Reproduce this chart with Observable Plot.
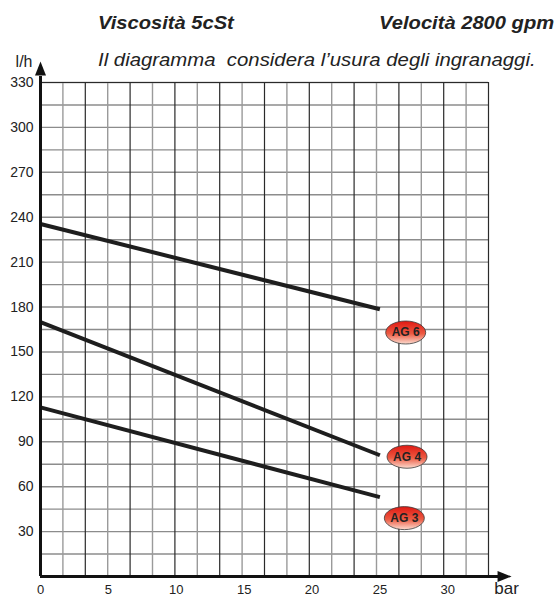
<!DOCTYPE html>
<html>
<head>
<meta charset="utf-8">
<script src="https://cdn.jsdelivr.net/npm/d3@7"></script>
<script src="https://cdn.jsdelivr.net/npm/@observablehq/plot@0.6"></script>
<style>
  body { margin: 0; background: #fff; }
  #wrap { position: relative; width: 558px; height: 597px; font-family: "Liberation Sans", Arial, sans-serif; color: #222; }
  .t { position: absolute; white-space: pre; line-height: 20px; }
  #t1 { left: 98px; top: 13px; font-size: 19px; font-weight: bold; font-style: italic; transform: scaleX(1.06); transform-origin: left center; }
  #t2 { right: 4px; top: 13px; font-size: 19px; font-weight: bold; font-style: italic; transform: scaleX(1.06); transform-origin: right center; }
  #t3 { left: 98px; top: 50px; font-size: 18px; font-style: italic; transform: scaleX(1.13); transform-origin: left center; }
  svg { position: absolute; left: 0; top: 0; }
</style>
</head>
<body>
<div id="wrap">
</div>
<script>
// ---- data ----
const pumps = ["AG 6", "AG 4", "AG 3"];
const pressure = [0, 25];                 // bar
const flowAG6 = [235.5, 178.5];           // l/h
const flowAG4 = [170, 81];
const flowAG3 = [113, 53];
const badgeX = [26.9, 27, 26.8];          // bar
const badgeY = [163, 80, 39];             // l/h
const xTicks = [0, 5, 10, 15, 20, 25, 30];
const yTicks = [30, 60, 90, 120, 150, 180, 210, 240, 270, 300, 330];
const xMax = 33, yMax = 330;
const gridCols = 20, yStep = 15;

const flows = [flowAG6, flowAG4, flowAG3];
const lineData = pumps.flatMap((p, i) => pressure.map((b, j) => ({pump: p, bar: b, lh: flows[i][j]})));
const badges = pumps.map((p, i) => ({pump: p, bar: badgeX[i], lh: badgeY[i]}));

const vGrid = d3.range(1, gridCols + 1).map(k => ({x: k * xMax / gridCols, dark: k % 2 === 0 || k === gridCols}));
const hGrid = d3.range(yStep, yMax + 1, yStep);

const ellipseSym = {
  draw(ctx) {
    const rx = 20, ry = 11.5, k = 0.5523;
    ctx.moveTo(-rx, 0);
    ctx.bezierCurveTo(-rx, -ry * k, -rx * k, -ry, 0, -ry);
    ctx.bezierCurveTo(rx * k, -ry, rx, -ry * k, rx, 0);
    ctx.bezierCurveTo(rx, ry * k, rx * k, ry, 0, ry);
    ctx.bezierCurveTo(-rx * k, ry, -rx, ry * k, -rx, 0);
    ctx.closePath();
  }
};
const arrowSym = {
  draw(ctx) {
    ctx.moveTo(0, 0);
    ctx.lineTo(-5.5, 14);
    ctx.lineTo(5.5, 14);
    ctx.closePath();
  }
};

const chart = Plot.plot({
  width: 558, height: 597,
  marginLeft: 40, marginRight: 70, marginTop: 82, marginBottom: 21,
  x: {domain: [0, xMax]},
  y: {domain: [0, yMax]},
  style: {fontFamily: "'Liberation Sans', Arial, sans-serif", fontSize: "13px", color: "#222", background: "transparent", overflow: "visible"},
  marks: [
    Plot.ruleY(hGrid, {y: d => d, x1: 0, x2: xMax, stroke: "#8c8c8c", strokeWidth: 1.4}),
    Plot.ruleX(vGrid.filter(d => !d.dark), {x: "x", y1: 0, y2: yMax, stroke: "#9a9a9a", strokeWidth: 1.4}),
    Plot.ruleX(vGrid.filter(d => d.dark), {x: "x", y1: 0, y2: yMax, stroke: "#2a2a2a", strokeWidth: 1.2}),
    Plot.ruleY([yMax], {x1: 0, x2: xMax, stroke: "#2a2a2a", strokeWidth: 1.2}),
    Plot.line(lineData, {x: "bar", y: "lh", z: "pump", stroke: "#1e1e1e", strokeWidth: 4, strokeLinecap: "butt"}),
    // axes with arrows
    Plot.ruleX([0], {y1: 0, y2: 334, stroke: "#111", strokeWidth: 3}),
    Plot.ruleY([0], {x1: 0, x2: 33.9, stroke: "#111", strokeWidth: 3}),
    Plot.dot([{bar: 0, lh: 344}], {x: "bar", y: "lh", symbol: arrowSym, r: 5, fill: "#111", stroke: "none"}),
    Plot.dot([{bar: 34.7, lh: 0}], {x: "bar", y: "lh", symbol: arrowSym, r: 5, rotate: 90, fill: "#111", stroke: "none"}),
    Plot.axisY(yTicks, {tickSize: 0, tickPadding: 7, fontSize: 14, label: null}),
    Plot.axisX(xTicks, {tickSize: 0, tickPadding: 8, fontSize: 13, label: null}),
    Plot.text([{bar: 0, lh: 344, t: "l/h"}], {x: "bar", y: "lh", text: "t", dx: -8, textAnchor: "end", fontSize: 16}),
    Plot.text([{bar: 34.7, lh: 0, t: "bar"}], {x: "bar", y: "lh", text: "t", dx: -5, dy: 12, textAnchor: "middle", fontSize: 17}),
    // badges
    Plot.dot(badges, {x: "bar", y: "lh", symbol: ellipseSym, r: 10, fill: "url(#agGrad)", stroke: "#3a3a3a", strokeWidth: 0.8}),
    Plot.text(badges, {x: "bar", y: "lh", text: "pump", fontSize: 12, fontWeight: "bold", fill: "#222"})
  ]
});

d3.select(chart).insert("defs", ":first-child").html(
  '<linearGradient id="agGrad" x1="0" y1="0" x2="0" y2="1">' +
  '<stop offset="0" stop-color="#e01812"/>' +
  '<stop offset="0.55" stop-color="#ec5a42"/>' +
  '<stop offset="1" stop-color="#fcdcd0"/>' +
  '</linearGradient>'
);

const wrap = document.getElementById("wrap");
wrap.appendChild(chart);
const titles = [["t1", "Viscosità 5cSt"], ["t2", "Velocità 2800 gpm"], ["t3", "Il diagramma  considera l’usura degli ingranaggi."]];
for (const [id, txt] of titles) {
  const d = document.createElement("div");
  d.className = "t"; d.id = id; d.textContent = txt;
  wrap.appendChild(d);
}
</script>
</body>
</html>
